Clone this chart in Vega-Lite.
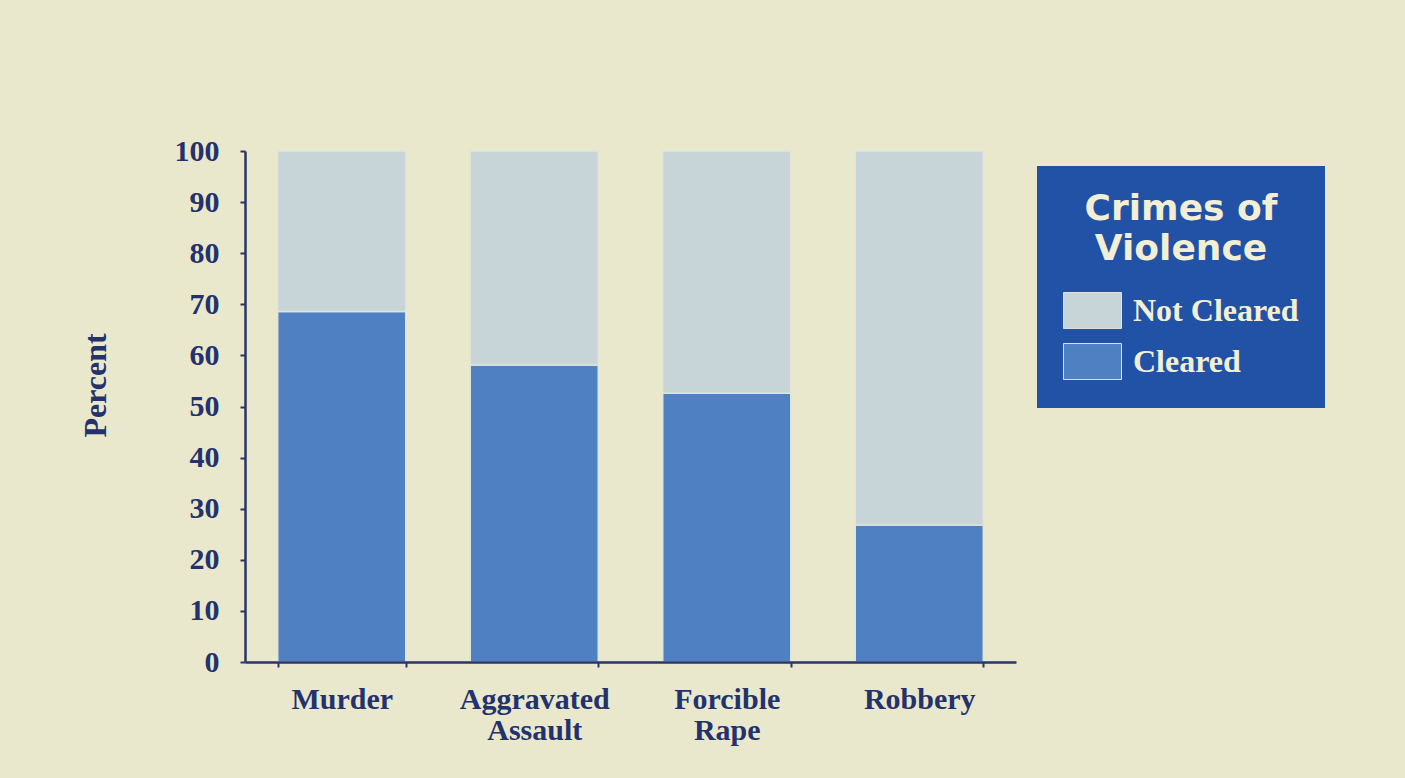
{
  "$schema": "https://vega.github.io/schema/vega-lite/v6.json",
  "autosize": {"type": "none"},
  "padding": {"left": 245, "top": 151, "right": 389, "bottom": 116},
  "width": 771,
  "height": 511,
  "background": "#eae8cc",
  "data": {
    "values": [
      {"crime": "Murder", "status": "Cleared", "percent": 68.6},
      {"crime": "Murder", "status": "Not Cleared", "percent": 31.4},
      {"crime": "Aggravated Assault", "status": "Cleared", "percent": 58.1},
      {"crime": "Aggravated Assault", "status": "Not Cleared", "percent": 41.9},
      {"crime": "Forcible Rape", "status": "Cleared", "percent": 52.6},
      {"crime": "Forcible Rape", "status": "Not Cleared", "percent": 47.4},
      {"crime": "Robbery", "status": "Cleared", "percent": 26.8},
      {"crime": "Robbery", "status": "Not Cleared", "percent": 73.2}
    ]
  },
  "mark": {"type": "bar", "stroke": "#e0e5d8", "strokeWidth": 1.5},
  "encoding": {
    "x": {
      "field": "crime",
      "type": "nominal",
      "sort": ["Murder", "Aggravated Assault", "Forcible Rape", "Robbery"],
      "scale": {"paddingInner": 0.335, "paddingOuter": 0.17},
      "axis": {
        "title": null,
        "zindex": 1,
        "labelAngle": 0,
        "labelExpr": "split(datum.label, ' ')",
        "labelFont": "Liberation Serif",
        "labelFontWeight": "bold",
        "labelFontSize": 30,
        "labelLineHeight": 31,
        "labelColor": "#23326c",
        "labelPadding": 17,
        "labelBaseline": "top",
        "tickBand": "extent",
        "tickSize": 5,
        "tickWidth": 2,
        "tickColor": "#2b3468",
        "domainColor": "#2b3468",
        "domainWidth": 2.5
      }
    },
    "y": {
      "field": "percent",
      "type": "quantitative",
      "stack": "zero",
      "scale": {"domain": [0, 100], "nice": false},
      "axis": {
        "title": "Percent",
        "zindex": 1,
        "titleFont": "Liberation Serif",
        "titleFontWeight": "bold",
        "titleFontSize": 32,
        "titleColor": "#23326c",
        "titleX": -133,
        "titleY": 234,
        "values": [0, 10, 20, 30, 40, 50, 60, 70, 80, 90, 100],
        "grid": false,
        "labelFont": "Liberation Serif",
        "labelFontWeight": "bold",
        "labelFontSize": 30,
        "labelColor": "#23326c",
        "labelPadding": 21,
        "tickSize": 5,
        "tickWidth": 2,
        "tickColor": "#2b3468",
        "domainColor": "#2b3468",
        "domainWidth": 2.5
      }
    },
    "color": {
      "field": "status",
      "type": "nominal",
      "scale": {"domain": ["Not Cleared", "Cleared"], "range": ["#c7d4d8", "#4f80c2"]},
      "legend": {
        "title": ["Crimes of", "Violence"],
        "orient": "none",
        "legendX": 792,
        "legendY": 15,
        "fillColor": "#2152a6",
        "padding": 26,
        "titleFont": "DejaVu Sans",
        "titleFontWeight": "bold",
        "titleFontSize": 36,
        "titleLineHeight": 40,
        "titleLimit": 500,
        "titleColor": "#f3efd5",
        "titleAnchor": "middle",
        "titleAlign": "center",
        "titlePadding": 13,
        "symbolType": "M-1,-0.62H1V0.62H-1Z",
        "symbolSize": 3364,
        "symbolStrokeColor": "#dfe3e0",
        "symbolStrokeWidth": 1,
        "symbolOpacity": 1,
        "labelFont": "Liberation Serif",
        "labelFontWeight": "bold",
        "labelFontSize": 32,
        "labelColor": "#f3efd5",
        "labelOffset": 11,
        "rowPadding": 1,
        "labelLimit": 400
      }
    },
    "order": {"field": "status", "sort": "ascending"}
  },
  "config": {
    "view": {"stroke": null},
    "axis": {"labelFlush": false}
  }
}
